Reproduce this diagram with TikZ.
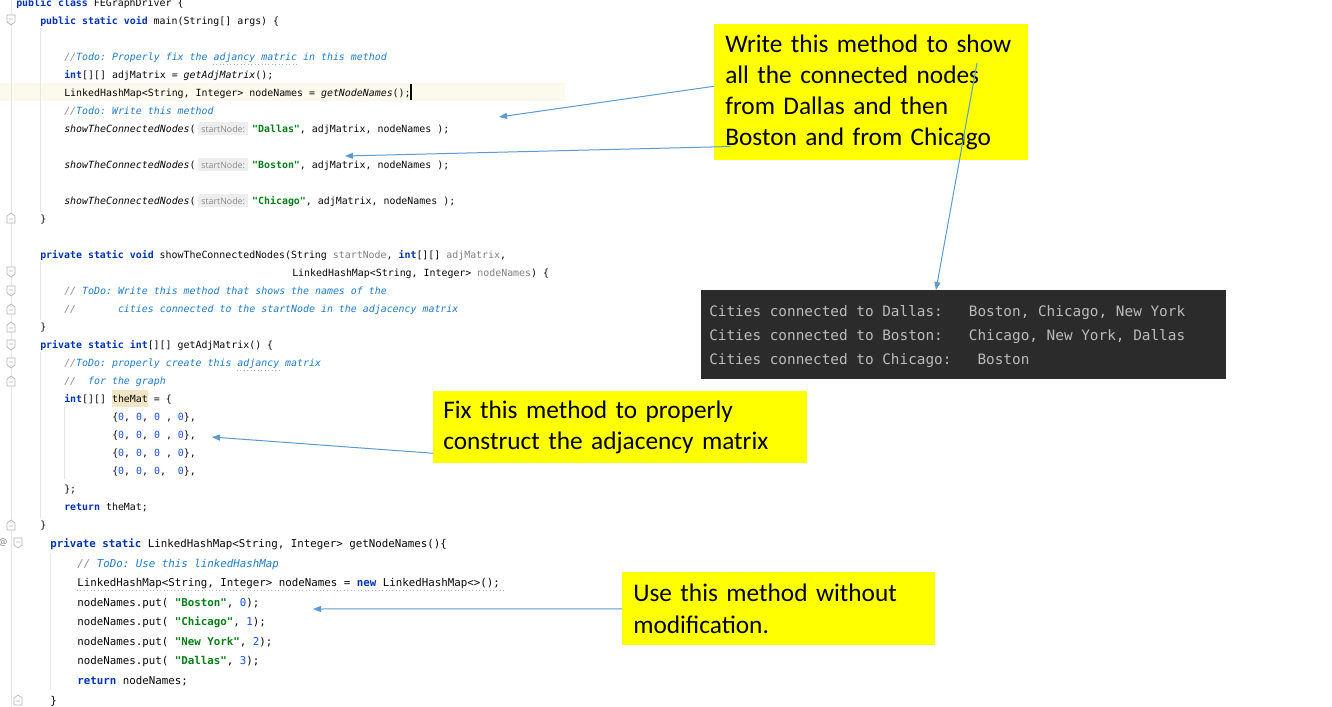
\documentclass[tikz,border=0pt]{standalone}
\usepackage{fontspec}
\setmonofont{DejaVu Sans Mono}
\newfontfamily\callfont{Carlito}
\newfontfamily\hintfont{Open Sans}
\usetikzlibrary{arrows.meta,calc}

\definecolor{kwblue}{HTML}{0033B3}
\definecolor{strgreen}{HTML}{067D17}
\definecolor{numblue}{HTML}{1750EB}
\definecolor{todoblue}{HTML}{1F7CC8}
\definecolor{cmtgray}{HTML}{8C8C8C}
\definecolor{codeblack}{HTML}{080808}
\definecolor{unusedgray}{HTML}{808080}
\definecolor{hintbg}{HTML}{EDEDED}
\definecolor{hintgray}{HTML}{8A8A8A}
\definecolor{curline}{HTML}{FCFAED}
\definecolor{matbg}{HTML}{F1E6C3}
\definecolor{guide}{HTML}{E6E6E6}
\definecolor{foldgray}{HTML}{B5B5B5}
\definecolor{typogreen}{HTML}{8CC98C}
\definecolor{callyellow}{HTML}{FFFF00}
\definecolor{arrowblue}{HTML}{5B9BD5}
\definecolor{consolebg}{HTML}{2B2B2B}
\definecolor{consoletext}{HTML}{BBBBBB}

\setlength{\fboxsep}{1.5pt}
\newcommand\jkw[1]{\textcolor{kwblue}{\bfseries #1}}
\newcommand\jstr[1]{\textcolor{strgreen}{\bfseries #1}}
\newcommand\jnum[1]{\textcolor{numblue}{#1}}
\newcommand\jcmt[2]{\textcolor{cmtgray}{\itshape #1}\textcolor{todoblue}{\itshape #2}}
\newcommand\jmth[1]{{\itshape #1}}
\newcommand\junu[1]{\textcolor{unusedgray}{#1}}
\newcommand\jhint{\hspace{1.9pt}\colorbox{hintbg}{\makebox[34.5pt]{\hintfont\fontsize{6.6}{8}\selectfont\color{hintgray}\rule[-0.4pt]{0pt}{6.8pt}startNode:}}\hspace{3pt}}
% fold markers in the gutter
\newcommand\foldbeg[2]{\draw[fold] (#1-4,#2-5) -- (#1+4,#2-5) -- (#1+4,#2+2) -- (#1,#2+5) -- (#1-4,#2+2) -- cycle (#1-2,#2-1) -- (#1+2,#2-1);}
\newcommand\foldend[2]{\draw[fold] (#1-4,#2+5) -- (#1+4,#2+5) -- (#1+4,#2-2) -- (#1,#2-5) -- (#1-4,#2-2) -- cycle (#1-2,#2+1) -- (#1+2,#2+1);}

\tikzset{
  codeA/.style={anchor=base west, inner sep=0pt, text=codeblack, font=\ttfamily\fontsize{7.44}{9}\selectfont},
  codeB/.style={codeA, font=\ttfamily\fontsize{8.1}{10}\selectfont},
  conline/.style={anchor=base west, inner sep=0pt, text=consoletext, font=\ttfamily\fontsize{10.78}{13}\selectfont},
  callout/.style={anchor=north west, fill=callyellow, inner ysep=0pt, align=left, font=\callfont\fontsize{19}{23.3}\selectfont},
  callarrow/.style={draw=arrowblue, line width=0.75pt, -{Triangle[length=6pt,width=4.5pt]}},
  fold/.style={draw=foldgray, fill=white, line width=0.5pt},
  guideline/.style={draw=guide, line width=0.75pt},
}

\begin{document}
\begin{tikzpicture}[x=0.75pt,y=-0.75pt]
\useasboundingbox (0,0) rectangle (1332,707);
\clip (0,0) rectangle (1332,707);
\fill[white] (0,0) rectangle (1332,707);

% editor background marks
\fill[curline] (0,83) rectangle (565,101);
\fill[matbg] (112,390) rectangle (148,407);
\draw[guideline] (11,0) -- (11,707);
\draw[guideline] (40,28) -- (40,212);
\draw[guideline] (40,262) -- (40,320);
\draw[guideline] (40,352) -- (40,518);
\draw[guideline] (64,407) -- (64,479);
\draw[guideline] (50,553) -- (50,690);
\draw[typogreen, dotted, line width=0.6pt] (213,64) -- (297,64);
\draw[typogreen, dotted, line width=0.6pt] (237,370) -- (279,370);
\draw[foldgray, dotted, line width=0.6pt] (77,590) -- (506,590);

\foldbeg{11}{20}
\foldend{11}{218}
\foldbeg{11}{272}
\foldbeg{11}{291}
\foldend{11}{309}
\foldend{11}{327}
\foldbeg{11}{345}
\foldbeg{11}{363}
\foldend{11}{381}
\foldend{11}{525}
\foldbeg{18}{543}
\foldend{18}{700}
\node[font=\hintfont\fontsize{7}{8}\selectfont, text=unusedgray, inner sep=0pt] (ovr) at (3,543) {@};

% main
\node[codeA] (cls) at (16,6.3) {\jkw{public class} FEGraphDriver \{};
\node[codeA] (main) at (40,24.3) {\jkw{public static void} main(String[] args) \{};
\node[codeA] (c1) at (64,60.3) {\jcmt{//}{Todo: Properly fix the adjancy matric in this method}};
\node[codeA] (adj) at (64,78.3) {\jkw{int}[][] adjMatrix = \jmth{getAdjMatrix}();};
\node[codeA] (nms) at (64,96.3) {LinkedHashMap<String, Integer> nodeNames = \jmth{getNodeNames}();};
\draw[codeblack, line width=0.9pt] (411,84) -- (411,100);
\node[codeA] (c2) at (64,114.3) {\jcmt{//}{Todo: Write this method}};
\node[codeA] (s1) at (64,132.3) {\jmth{showTheConnectedNodes}(\jhint\jstr{"Dallas"}, adjMatrix, nodeNames );};
\node[codeA] (s2) at (64,168.3) {\jmth{showTheConnectedNodes}(\jhint\jstr{"Boston"}, adjMatrix, nodeNames );};
\node[codeA] (s3) at (64,204.3) {\jmth{showTheConnectedNodes}(\jhint\jstr{"Chicago"}, adjMatrix, nodeNames );};
\node[codeA] (e1) at (40,222.3) {\}};

% showTheConnectedNodes
\node[codeA] (sig1) at (40,258.3) {\jkw{private static void} showTheConnectedNodes(String \junu{startNode}, \jkw{int}[][] \junu{adjMatrix},};
\node[codeA] (sig2) at (292,276.3) {LinkedHashMap<String, Integer> \junu{nodeNames}) \{};
\node[codeA] (c3) at (64,294.3) {\jcmt{//}{\ ToDo: Write this method that shows the names of the}};
\node[codeA] (c4) at (64,312.3) {\jcmt{//}{\ \ \ \ \ \ \ cities connected to the startNode in the adjacency matrix}};
\node[codeA] (e2) at (40,330.3) {\}};

% getAdjMatrix
\node[codeA] (gam) at (40,348.3) {\jkw{private static int}[][] getAdjMatrix() \{};
\node[codeA] (c5) at (64,366.3) {\jcmt{//}{ToDo: properly create this adjancy matrix}};
\node[codeA] (c6) at (64,384.3) {\jcmt{//}{\ \ for the graph}};
\node[codeA] (mat) at (64,402.3) {\jkw{int}[][] theMat = \{};
\node[codeA] (r1) at (112,420.3) {\{\jnum{0}, \jnum{0}, \jnum{0} , \jnum{0}\},};
\node[codeA] (r2) at (112,438.3) {\{\jnum{0}, \jnum{0}, \jnum{0} , \jnum{0}\},};
\node[codeA] (r3) at (112,456.3) {\{\jnum{0}, \jnum{0}, \jnum{0} , \jnum{0}\},};
\node[codeA] (r4) at (112,474.3) {\{\jnum{0}, \jnum{0}, \jnum{0},\ \ \jnum{0}\},};
\node[codeA] (e3) at (64,492.3) {\};};
\node[codeA] (ret1) at (64,510.3) {\jkw{return} theMat;};
\node[codeA] (e4) at (40,528.3) {\}};

% getNodeNames
\node[codeB] (gnn) at (50,547.4) {\jkw{private static} LinkedHashMap<String, Integer> getNodeNames()\{};
\node[codeB] (c7) at (77,567) {\jcmt{//}{\ ToDo: Use this linkedHashMap}};
\node[codeB] (lhm) at (77,586.5) {LinkedHashMap<String, Integer> nodeNames = \jkw{new} LinkedHashMap<>();};
\node[codeB] (p1) at (77,606.1) {nodeNames.put( \jstr{"Boston"}, \jnum{0});};
\node[codeB] (p2) at (77,625.7) {nodeNames.put( \jstr{"Chicago"}, \jnum{1});};
\node[codeB] (p3) at (77,645.3) {nodeNames.put( \jstr{"New York"}, \jnum{2});};
\node[codeB] (p4) at (77,664.9) {nodeNames.put( \jstr{"Dallas"}, \jnum{3});};
\node[codeB] (ret2) at (77,684.5) {\jkw{return} nodeNames;};
\node[codeB] (e5) at (50,704.1) {\}};

% console output
\node[anchor=north west, fill=consolebg, inner sep=0pt, minimum width=393.75pt, minimum height=66.75pt] (con) at (701,290) {};
\node[conline] (cn1) at (709,316.5) {Cities connected to Dallas:\ \ \ Boston, Chicago, New York};
\node[conline] (cn2) at (709,340.5) {Cities connected to Boston:\ \ \ Chicago, New York, Dallas};
\node[conline] (cn3) at (709,364.5) {Cities connected to Chicago:\ \ \ Boston};

% callouts
\node[callout, inner xsep=8.25pt, text width=219pt, minimum height=102pt] (wr) at (714,24)
  {Write this method to show\\all the connected nodes\\from Dallas and then\\Boston and from Chicago};
\node[callout, inner xsep=7.5pt, text width=265.5pt, minimum height=54pt] (fx) at (433,391)
  {Fix this method to properly\\construct the adjacency matrix};
\node[callout, inner xsep=8.25pt, text width=218.25pt, minimum height=54.75pt] (us) at (622,572)
  {Use this method without\\modification.};

\coordinate (dal) at (499,117);
\coordinate (bos) at (345,156);
\coordinate (row) at (212,437);
\coordinate (put) at (313,609);
\draw[callarrow] ($(wr.west)+(0,-6)$) -- (dal);
\draw[callarrow] ($(wr.south west)+(16,-14)$) -- (bos);
\draw[callarrow] ($(wr.north west)+(263,39)$) -- ($(con.north west)+(235,0)$);
\draw[callarrow] ($(fx.west)+(0,26)$) -- (row);
\draw[callarrow] (us.west) -- (put);
\end{tikzpicture}
\end{document}
